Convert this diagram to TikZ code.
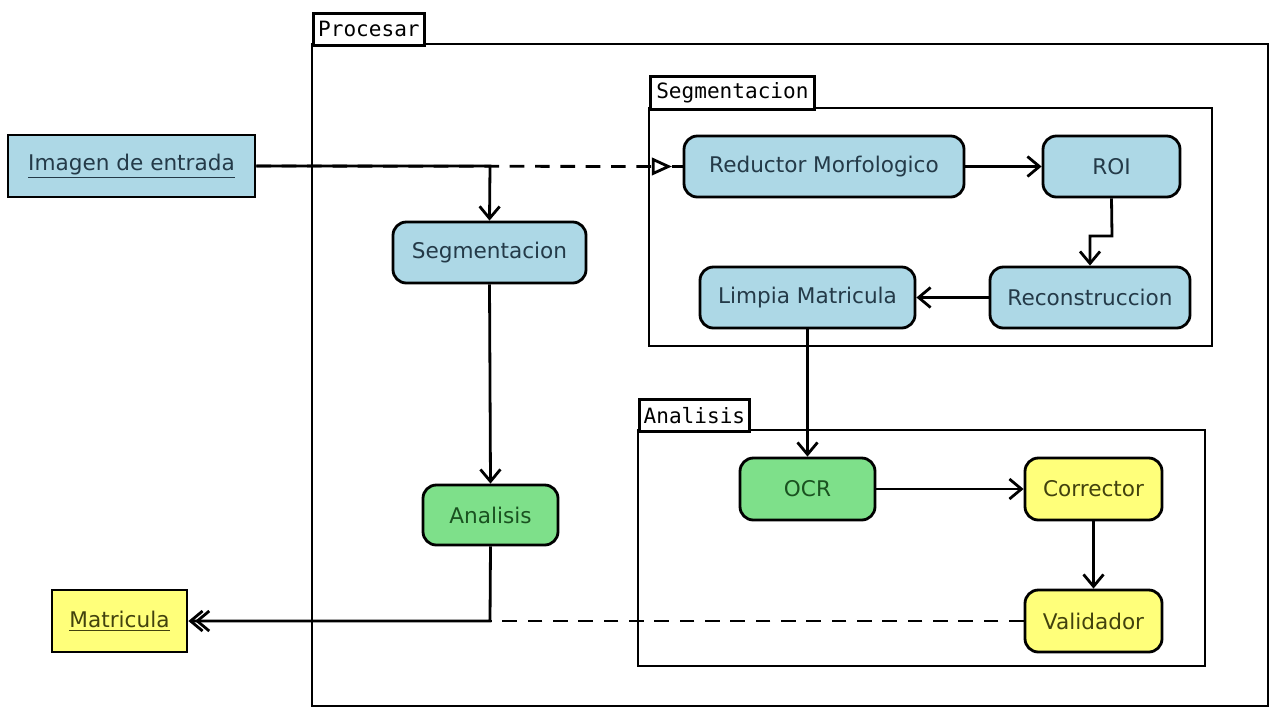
\documentclass[tikz,border=0pt]{standalone}
\usepackage{fontspec}
\setmainfont{DejaVu Sans}
\setmonofont{DejaVu Sans Mono}
\usetikzlibrary{arrows.meta}
\definecolor{bfill}{HTML}{ADD8E6}
\definecolor{gfill}{HTML}{7EE08A}
\definecolor{yfill}{HTML}{FFFF7A}
\definecolor{btext}{HTML}{243A48}
\definecolor{gtext}{HTML}{1A5220}
\definecolor{ytext}{HTML}{42420E}
\tikzset{
  x=0.75pt, y=-0.75pt,
  lw/.style={line width=2.1pt},
  act/.style={draw, lw, rounded corners=10pt, inner sep=0pt, font=\fontsize{16.2}{19}\selectfont},
  blue/.style={act, fill=bfill, text=btext},
  green/.style={act, fill=gfill, text=gtext},
  yellow/.style={act, fill=yfill, text=ytext},
  obj/.style={draw, lw, inner sep=0pt, font=\fontsize{16.2}{19}\selectfont},
  frame/.style={draw, lw},
  tab/.style={draw, lw, fill=white, inner sep=0pt, font=\ttfamily\fontsize{15.8}{18}\selectfont},
  conn/.style={lw, -{Straight Barb[length=9pt,width=15pt,line width=2.1pt]}},
  dashline/.style={lw, dash pattern=on 11pt off 8pt},
}
\begin{document}
\begin{tikzpicture}
\useasboundingbox (0,0) rectangle (1270,708);
\fill[white] (0,0) rectangle (1270,708);
% frames
\draw[frame] (312,44) rectangle (1268,706);
\node[tab, minimum width=111*0.75pt, minimum height=32*0.75pt, anchor=north west] (tproc) at (312,12) {Procesar};
\draw[frame] (649,108) rectangle (1212,346);
\node[tab, minimum width=164*0.75pt, minimum height=33*0.75pt, anchor=north west] (tseg) at (649,75) {Segmentacion};
\draw[frame] (638,430) rectangle (1205,666);
\node[tab, minimum width=110*0.75pt, minimum height=32*0.75pt, anchor=north west] (tana) at (638,398) {Analisis};
% object nodes
\node[obj, fill=bfill, text=btext, minimum width=247*0.75pt, minimum height=62*0.75pt] (img) at (131.5,166) {\underline{Imagen de entrada}};
\node[obj, fill=yfill, text=ytext, minimum width=135*0.75pt, minimum height=62*0.75pt] (mat) at (119.5,621) {\underline{Matricula}};
% activities
\node[blue, minimum width=193*0.75pt, minimum height=61*0.75pt] (seg) at (489.5,252.5) {Segmentacion};
\node[green, minimum width=135*0.75pt, minimum height=60*0.75pt] (ana) at (490.5,515) {Analisis};
\node[blue, minimum width=280*0.75pt, minimum height=61*0.75pt] (red) at (824,166.5) {Reductor Morfologico};
\node[blue, minimum width=137*0.75pt, minimum height=61*0.75pt] (roi) at (1111.5,166.5) {ROI};
\node[blue, minimum width=200*0.75pt, minimum height=61*0.75pt] (rec) at (1090,297.5) {Reconstruccion};
\node[blue, minimum width=215*0.75pt, minimum height=61*0.75pt] (lim) at (807.5,297.5) {Limpia Matricula};
\node[green, minimum width=135*0.75pt, minimum height=62*0.75pt] (ocr) at (807.5,489) {OCR};
\node[yellow, minimum width=137*0.75pt, minimum height=62*0.75pt] (cor) at (1093.5,489) {Corrector};
\node[yellow, minimum width=137*0.75pt, minimum height=62*0.75pt] (val) at (1093.5,621) {Validador};
% connectors
\coordinate (c1) at (490,166);
\coordinate (c2) at (490,621);
\coordinate (r1) at (1112,236);
\coordinate (r2) at (1090,236);
\draw[dashline, -{Triangle[open, length=15pt, width=13pt, line width=2.1pt, fill=white]}] (img.east) -- ([xshift=-8pt]red.west);
\draw[lw] ([xshift=-8pt]red.west) -- (red.west);
\draw[conn] (img.east) -- (c1) -- (seg.north);
\draw[conn] (seg.south) -- (ana.north);
\draw[conn] (ana.south) -- (c2) -- (mat.east);
\draw[dashline, -{Straight Barb[length=9pt,width=15pt,line width=2.1pt]}] (val.west) -- ([xshift=5pt]mat.east);
\draw[conn] (red.east) -- (roi.west);
\draw[conn] (roi.south) -- (r1) -- (r2) -- (rec.north -| r2);
\draw[conn] (rec.west) -- (lim.east);
\draw[conn] (lim.south) -- (ocr.north);
\draw[conn] (ocr.east) -- (cor.west);
\draw[conn] (cor.south) -- (val.north);
\end{tikzpicture}
\end{document}
